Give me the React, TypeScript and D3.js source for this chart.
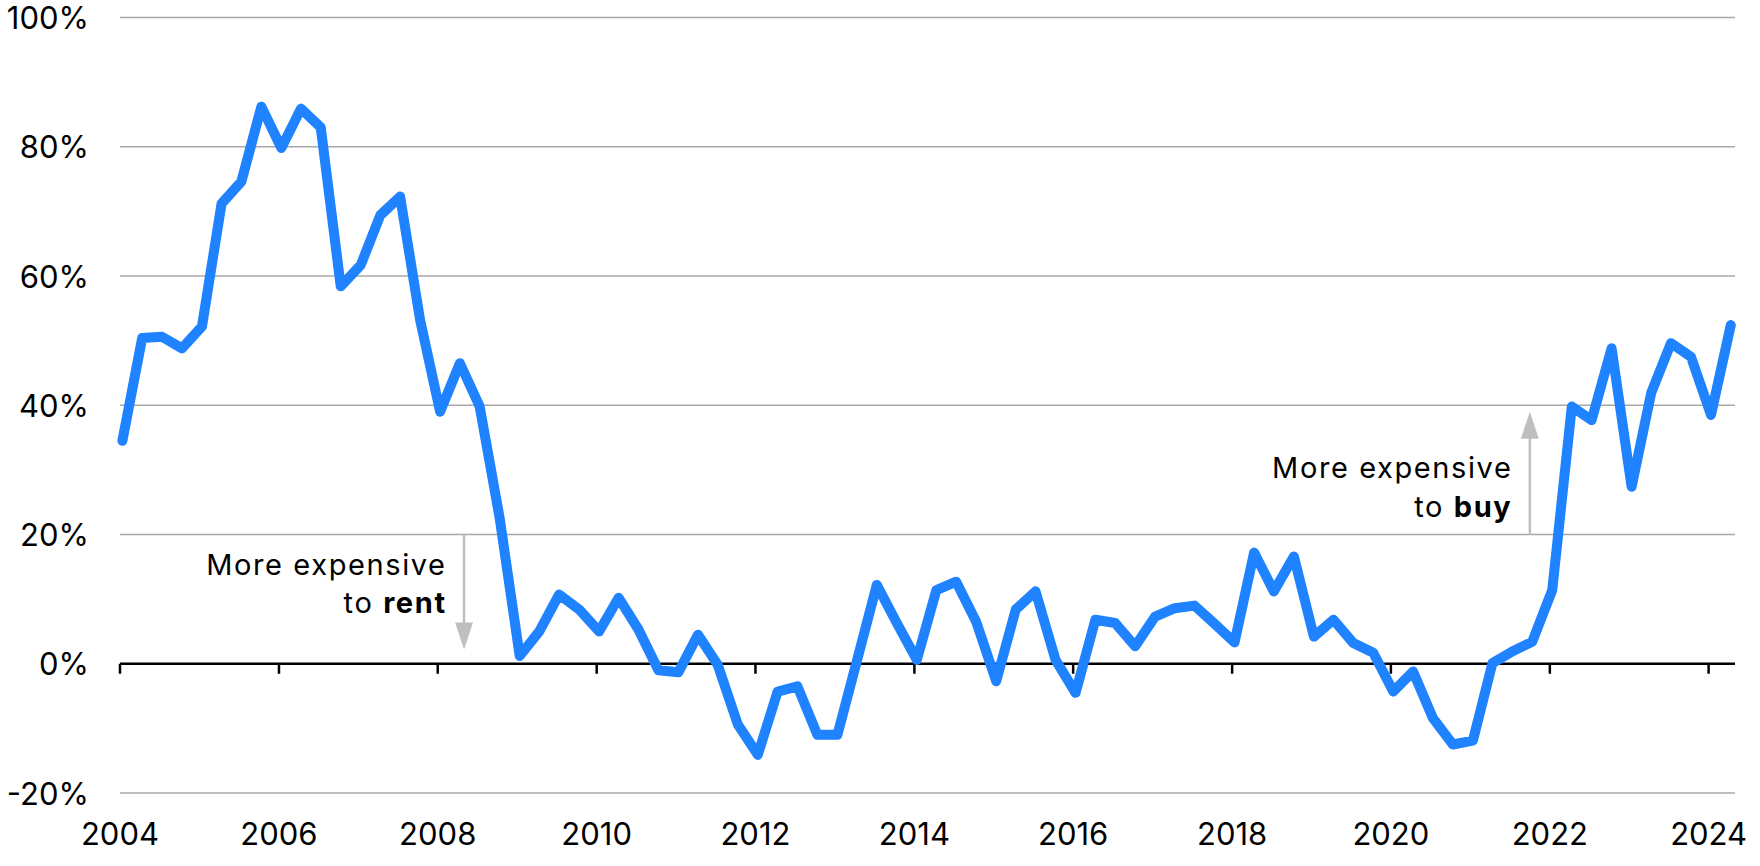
import React from "react";
import * as d3 from "d3";

const startYear = 2004;
const values: number[] = [
  34.5, 50.4, 50.6, 48.8, 52.2, 71.2, 74.6, 86.2, 79.8, 85.9,
  83.0, 58.4, 61.7, 69.4, 72.3, 53.2, 39.0, 46.5, 39.8, 22.5,
  1.2, 5.0, 10.7, 8.4, 5.0, 10.2, 5.3, -1.0, -1.3, 4.5,
  -0.2, -9.4, -14.1, -4.3, -3.5, -11.0, -11.0, 0.5, 12.2, 6.3,
  0.6, 11.4, 12.7, 6.5, -2.7, 8.4, 11.2, 0.6, -4.5, 6.8,
  6.3, 2.7, 7.3, 8.6, 9.0, 6.2, 3.3, 17.2, 11.2, 16.6,
  4.2, 6.8, 3.2, 1.7, -4.3, -1.2, -8.4, -12.5, -11.9, 0.1,
  1.9, 3.4, 11.4, 39.8, 37.7, 48.8, 27.4, 41.9, 49.6, 47.5,
  38.5, 52.4,
];
const yTicks: number[] = [-20, 0, 20, 40, 60, 80, 100];
const xTickYears: number[] = [2004, 2006, 2008, 2010, 2012, 2014, 2016, 2018, 2020, 2022, 2024];

const rentNote = { year: 2008.34, from: 20, to: 2.2, lines: ["More expensive", "to ", "rent"] };
const buyNote = { year: 2021.77, from: 20, to: 39, lines: ["More expensive", "to ", "buy"] };

const data = values.map((v, i) => ({ date: new Date(startYear, i * 3, 12), value: v }));

const W = 1760;
const H = 866;
const FONT = "Inter, Roboto, 'Noto Sans', sans-serif";

export default function App() {
  const x = d3
    .scaleTime()
    .domain([new Date(2004, 0, 1), new Date(2024, 0, 1)])
    .range([120, 1708.6]);
  const y = d3.scaleLinear().domain([-20, 100]).range([793, 17.5]);
  const gridX0 = 120;
  const gridX1 = 1735;
  const line = d3
    .line<{ date: Date; value: number }>()
    .x((d) => x(d.date))
    .y((d) => y(d.value));
  const yearX = (yr: number) => {
    const whole = Math.floor(yr);
    const frac = yr - whole;
    return x(new Date(whole, Math.round(frac * 12 * 100) / 100, 1));
  };
  const xr = yearX(rentNote.year);
  const xb = yearX(buyNote.year);
  const arrowColor = "#bfbfbf";
  const head = 27;
  const hw = 9;
  const noteFs = 29;
  const noteLs = 1.6;
  const noteGap = 19;

  return (
    <svg
      width={W}
      height={H}
      style={{ position: "absolute", left: 0, top: 0, background: "#fff" }}
      fontFamily={FONT}
    >
      {yTicks.map((t) => (
        <g key={t}>
          {t !== 0 && (
            <line x1={gridX0} x2={gridX1} y1={y(t)} y2={y(t)} stroke="#a8a8a8" strokeWidth={1.5} />
          )}
          <text x={89} y={y(t) + 11.5} textAnchor="end" fontSize={31} fill="#000">
            {t}%
          </text>
        </g>
      ))}
      {/* zero axis */}
      <line x1={gridX0} x2={gridX1} y1={y(0)} y2={y(0)} stroke="#000" strokeWidth={2.5} />
      {xTickYears.map((yr) => {
        const xx = x(new Date(yr, 0, 1));
        return (
          <g key={yr}>
            <line x1={xx} x2={xx} y1={y(0)} y2={y(0) + 10} stroke="#000" strokeWidth={2.5} />
            <text x={xx} y={845} textAnchor="middle" fontSize={31} fill="#000">
              {yr}
            </text>
          </g>
        );
      })}

      {/* rent annotation */}
      <line x1={xr} x2={xr} y1={y(rentNote.from)} y2={y(rentNote.to) - head + 2} stroke={arrowColor} strokeWidth={2.5} />
      <polygon
        points={`${xr - hw},${y(rentNote.to) - head} ${xr + hw},${y(rentNote.to) - head} ${xr},${y(rentNote.to)}`}
        fill={arrowColor}
      />
      <text x={xr - noteGap + noteLs} y={575} textAnchor="end" fontSize={noteFs} letterSpacing={noteLs} fill="#000">
        {rentNote.lines[0]}
      </text>
      <text x={xr - noteGap + noteLs} y={613} textAnchor="end" fontSize={noteFs} letterSpacing={noteLs} fill="#000">
        {rentNote.lines[1]}
        <tspan fontWeight={700}>{rentNote.lines[2]}</tspan>
      </text>

      {/* buy annotation */}
      <line x1={xb} x2={xb} y1={y(buyNote.from)} y2={y(buyNote.to) + head - 2} stroke={arrowColor} strokeWidth={2.5} />
      <polygon
        points={`${xb - hw},${y(buyNote.to) + head} ${xb + hw},${y(buyNote.to) + head} ${xb},${y(buyNote.to)}`}
        fill={arrowColor}
      />
      <text x={xb - noteGap + noteLs} y={478} textAnchor="end" fontSize={noteFs} letterSpacing={noteLs} fill="#000">
        {buyNote.lines[0]}
      </text>
      <text x={xb - noteGap + noteLs} y={517} textAnchor="end" fontSize={noteFs} letterSpacing={noteLs} fill="#000">
        {buyNote.lines[1]}
        <tspan fontWeight={700}>{buyNote.lines[2]}</tspan>
      </text>

      <path
        d={line(data) || ""}
        fill="none"
        stroke="#1f82ff"
        strokeWidth={10}
        strokeLinejoin="round"
        strokeLinecap="round"
      />
    </svg>
  );
}
